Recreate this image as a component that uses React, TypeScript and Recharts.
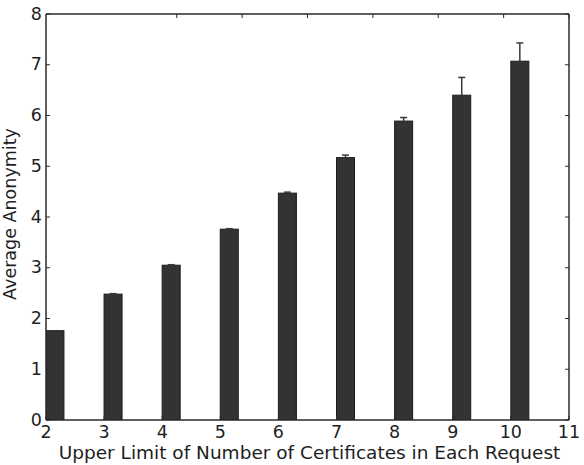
import React from 'react';
import { ComposedChart, Bar, XAxis, YAxis, Label, ReferenceArea } from 'recharts';

const requestLimits = [2, 3, 4, 5, 6, 7, 8, 9, 10];
const averageAnonymity = [1.76, 2.48, 3.05, 3.76, 4.47, 5.17, 5.89, 6.4, 7.07];
const anonymityError = [0.0, 0.01, 0.01, 0.01, 0.02, 0.05, 0.07, 0.35, 0.36];
const xTicks = [2, 3, 4, 5, 6, 7, 8, 9, 10, 11];
const yTicks = [0, 1, 2, 3, 4, 5, 6, 7, 8];

const xLabel = 'Upper Limit of Number of Certificates in Each Request';
const yLabel = 'Average Anonymity';

const data = requestLimits.map((limit, i) => ({
  limit,
  anonymity: averageAnonymity[i],
  err: anonymityError[i],
}));

const FONT = '"DejaVu Sans", sans-serif';
const TEXT = '#1e1e1e';
const AXIS = '#2a2a2a';
const TICK_LEN = 4;
const FS = 17.5;

const BarWithError = (props: any) => {
  const { x, y, width, height, payload } = props;
  const left = x + width / 2; // left-aligned bar (matplotlib align='edge')
  const pxPerUnit = payload.anonymity ? height / payload.anonymity : 0;
  const errPx = payload.err * pxPerUnit;
  const cx = left + width / 2;
  return (
    <g>
      <rect x={left} y={y} width={width} height={height} fill="#333333" stroke="#1a1a1a" strokeWidth={1} />
      {payload.err > 0 && (
        <g stroke="#3a3a3a" strokeWidth={1.5}>
          <line x1={cx} x2={cx} y1={y} y2={y - errPx} />
          <line x1={cx - 3.5} x2={cx + 3.5} y1={y - errPx} y2={y - errPx} />
        </g>
      )}
    </g>
  );
};

const BottomTick = (props: any) => {
  const { x, y, payload } = props;
  return (
    <g>
      <line x1={x} x2={x} y1={y} y2={y - TICK_LEN} stroke={AXIS} strokeWidth={1} />
      <text x={x} y={y} dy={17.5} textAnchor="middle" fontFamily={FONT} fontSize={FS} fill={TEXT}>
        {payload.value}
      </text>
    </g>
  );
};

const LeftTick = (props: any) => {
  const { x, y, payload } = props;
  return (
    <g>
      <line x1={x} x2={x + TICK_LEN} y1={y} y2={y} stroke={AXIS} strokeWidth={1} />
      <text x={x - 4} y={y} dy={5.5} textAnchor="end" fontFamily={FONT} fontSize={FS} fill={TEXT}>
        {payload.value}
      </text>
    </g>
  );
};

const TopTick = (props: any) => {
  const { x, y } = props;
  return <line x1={x} x2={x} y1={y} y2={y + TICK_LEN} stroke={AXIS} strokeWidth={1} />;
};

const RightTick = (props: any) => {
  const { x, y } = props;
  return <line x1={x} x2={x - TICK_LEN} y1={y} y2={y} stroke={AXIS} strokeWidth={1} />;
};

export default function App() {
  return (
    <div style={{ position: 'absolute', left: 0, top: 0, background: '#fff' }}>
      <ComposedChart
        width={584}
        height={465}
        data={data}
        margin={{ top: 13, right: 14, bottom: 0, left: 0 }}
      >
        <XAxis
          xAxisId="bottom"
          dataKey="limit"
          type="number"
          domain={[2, 11]}
          ticks={xTicks}
          interval={0}
          height={45}
          tickSize={0}
          tickMargin={0}
          tickLine={false}
          axisLine={{ stroke: AXIS, strokeWidth: 1 }}
          tick={<BottomTick />}
          allowDataOverflow
        >
          <Label
            content={(p: any) => {
              const vb = p.viewBox;
              return (
                <text x={vb.x + vb.width / 2 + 2} y={vb.y + 38.5} textAnchor="middle" fontFamily={FONT} fontSize={18.5} fill={TEXT}>
                  {xLabel}
                </text>
              );
            }}
          />
        </XAxis>
        <XAxis
          xAxisId="top"
          orientation="top"
          type="number"
          domain={[2, 11]}
          ticks={xTicks}
          interval={0}
          height={1}
          tickSize={0}
          tickMargin={0}
          tickLine={false}
          axisLine={{ stroke: AXIS, strokeWidth: 1 }}
          tick={<TopTick />}
          allowDataOverflow
        />
        <YAxis
          yAxisId="left"
          type="number"
          domain={[0, 8]}
          ticks={yTicks}
          interval={0}
          width={46}
          tickSize={0}
          tickMargin={0}
          tickLine={false}
          axisLine={{ stroke: AXIS, strokeWidth: 1 }}
          tick={<LeftTick />}
          allowDataOverflow
        >
          <Label
            content={(p: any) => {
              const vb = p.viewBox;
              const cx = vb.x + 16;
              const cy = vb.y + vb.height / 2 - 3;
              return (
                <text x={cx} y={cy} transform={`rotate(-90, ${cx}, ${cy})`} textAnchor="middle" fontFamily={FONT} fontSize={17.5} fill={TEXT}>
                  {yLabel}
                </text>
              );
            }}
          />
        </YAxis>
        <YAxis
          yAxisId="right"
          orientation="right"
          type="number"
          domain={[0, 8]}
          ticks={yTicks}
          interval={0}
          width={1}
          tickSize={0}
          tickMargin={0}
          tickLine={false}
          axisLine={{ stroke: AXIS, strokeWidth: 1 }}
          tick={<RightTick />}
          allowDataOverflow
        />
        <ReferenceArea
          xAxisId="bottom"
          yAxisId="left"
          x1={2}
          x2={11}
          y1={0}
          y2={8}
          fill="none"
          fillOpacity={0}
          stroke={AXIS}
          strokeWidth={1}
          ifOverflow="visible"
        />
        <Bar
          xAxisId="bottom"
          yAxisId="left"
          dataKey="anonymity"
          barSize={18}
          shape={<BarWithError />}
          isAnimationActive={false}
        />
      </ComposedChart>
    </div>
  );
}
